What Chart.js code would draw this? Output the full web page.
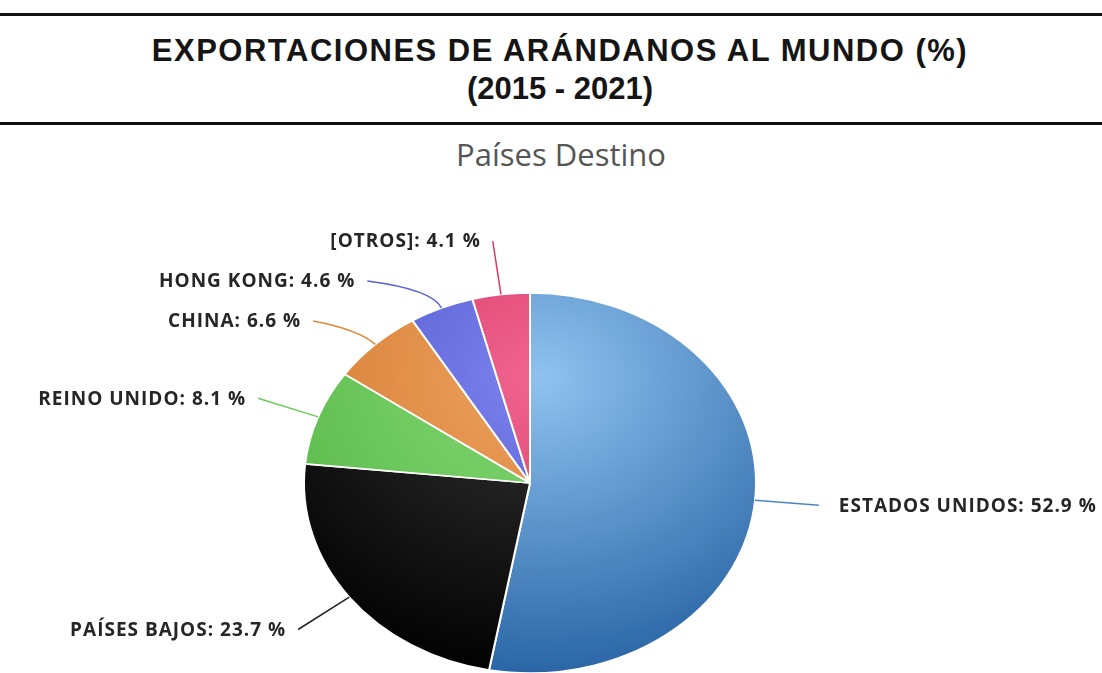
<!DOCTYPE html>
<html lang="es">
<head>
<meta charset="utf-8">
<title>Exportaciones de arándanos al mundo</title>
<script src="https://cdn.jsdelivr.net/npm/chart.js@4.4.1/dist/chart.umd.min.js"></script>
<style>
  html, body { margin: 0; padding: 0; width: 1102px; height: 673px; overflow: hidden; background: #fff; }
  .rule { position: absolute; left: 0; width: 1102px; height: 3px; background: #111; }
  #titulo {
    position: absolute; left: 0; top: 32px; width: 1120px; text-align: center;
    font: bold 31px "Liberation Sans", Arial, sans-serif; line-height: 38px; color: #151515;
  }
  #titulo .ancho { letter-spacing: 1.5px; }
  #subtitulo {
    position: absolute; left: 0; top: 134px; width: 1122px; text-align: center;
    font: 31px "Open Sans", sans-serif; line-height: 40px; color: #555;
  }
  #grafico { position: absolute; left: 0; top: 0; }
</style>
</head>
<body>
<div class="rule" style="top:13px"></div>
<div id="titulo"><span class="ancho">EXPORTACIONES DE ARÁNDANOS AL MUNDO (%)</span><br>(2015 - 2021)</div>
<div class="rule" style="top:122px"></div>
<div id="subtitulo">Países Destino</div>
<canvas id="grafico" width="1102" height="740"></canvas>
<script>
// datos
const paises = ['ESTADOS UNIDOS', 'PAÍSES BAJOS', 'REINO UNIDO', 'CHINA', 'HONG KONG', '[OTROS]'];
const porcentajes = [52.9, 23.7, 8.1, 6.6, 4.6, 4.1];

// colores (claro al centro, oscuro al borde)
const coloresClaros = ['#8fc2ef', '#333333', '#84da74', '#eea35e', '#7d84ee', '#f26592'];
const coloresOscuros = ['#2a66a6', '#020202', '#54b444', '#cf732b', '#444bc2', '#c9284f'];
const coloresLinea = ['#4a86c5', '#222222', '#6cc95a', '#e0883a', '#5b63d6', '#d83a66'];

// the picture's pie is an ellipse, so squash it vertically
const aplastar = 191 / 227;

function degradado(context) {
  const chart = context.chart;
  const i = context.dataIndex;
  const area = chart.chartArea;
  if (!area) return coloresLinea[i];
  const cx = (area.left + area.right) / 2;
  const cy = (area.top + area.bottom) / 2;
  const r = Math.min(area.right - area.left, area.bottom - area.top) / 2;
  const g = chart.ctx.createRadialGradient(cx + 0.05 * r, cy - 0.55 * r, 0, cx + 0.05 * r, cy - 0.55 * r, 1.55 * r);
  g.addColorStop(0, coloresClaros[i]);
  g.addColorStop(1, coloresOscuros[i]);
  return g;
}

const elipseYEtiquetas = {
  id: 'elipseYEtiquetas',
  beforeDatasetsDraw(chart) {
    const arc = chart.getDatasetMeta(0).data[0];
    const ctx = chart.ctx;
    ctx.save();
    ctx.translate(arc.x, arc.y);
    ctx.scale(1, aplastar);
    ctx.translate(-arc.x, -arc.y);
  },
  afterDatasetsDraw(chart) {
    const ctx = chart.ctx;
    ctx.restore();

    const arcs = chart.getDatasetMeta(0).data;
    const cx = arcs[0].x, cy = arcs[0].y;
    const r = arcs[0].outerRadius;
    const rEtiq = r + 64;

    const items = arcs.map((arc, i) => {
      const medio = (arc.startAngle + arc.endAngle) / 2;
      const cos = Math.cos(medio), sin = Math.sin(medio);
      return {
        i, cos, sin,
        borde: { x: cx + r * cos, y: cy + r * sin * aplastar },
        ctrl: { x: cx + (r + 24) * cos, y: cy + (r + 24) * sin * aplastar },
        y: cy + rEtiq * sin * aplastar,
        izq: cos < 0
      };
    });

    // keep labels on the left from overlapping
    const izquierda = items.filter(it => it.izq).sort((a, b) => a.y - b.y);
    for (let k = 1; k < izquierda.length; k++) {
      if (izquierda[k].y - izquierda[k - 1].y < 40) izquierda[k].y = izquierda[k - 1].y + 40;
    }

    items.forEach(it => {
      let dy = (it.y - cy) / (rEtiq * aplastar);
      dy = Math.max(-1, Math.min(1, dy));
      const dx = Math.sqrt(1 - dy * dy) * rEtiq;
      it.x = it.izq ? cx - dx : cx + dx;

      ctx.save();
      ctx.strokeStyle = coloresLinea[it.i];
      ctx.lineWidth = 1.5;
      ctx.beginPath();
      ctx.moveTo(it.borde.x, it.borde.y);
      ctx.quadraticCurveTo(it.ctrl.x, it.ctrl.y, it.x, it.y);
      ctx.stroke();

      ctx.font = 'bold 19px "Open Sans", sans-serif';
      ctx.letterSpacing = '1px';
      ctx.fillStyle = '#262626';
      ctx.textBaseline = 'middle';
      ctx.textAlign = it.izq ? 'right' : 'left';
      const texto = paises[it.i] + ': ' + porcentajes[it.i].toFixed(1) + ' %';
      ctx.fillText(texto, it.izq ? it.x - 12 : it.x + 20, it.y + 1);
      ctx.restore();
    });
  }
};

new Chart(document.getElementById('grafico'), {
  type: 'pie',
  data: {
    labels: paises,
    datasets: [{
      data: porcentajes,
      backgroundColor: degradado,
      borderColor: '#ffffff',
      borderWidth: 2
    }]
  },
  options: {
    responsive: false,
    animation: false,
    layout: { padding: { top: 256, bottom: 30, left: 0, right: 42 } },
    plugins: {
      legend: { display: false },
      title: { display: false },
      tooltip: { enabled: false }
    },
    events: []
  },
  plugins: [elipseYEtiquetas]
});
</script>
</body>
</html>
